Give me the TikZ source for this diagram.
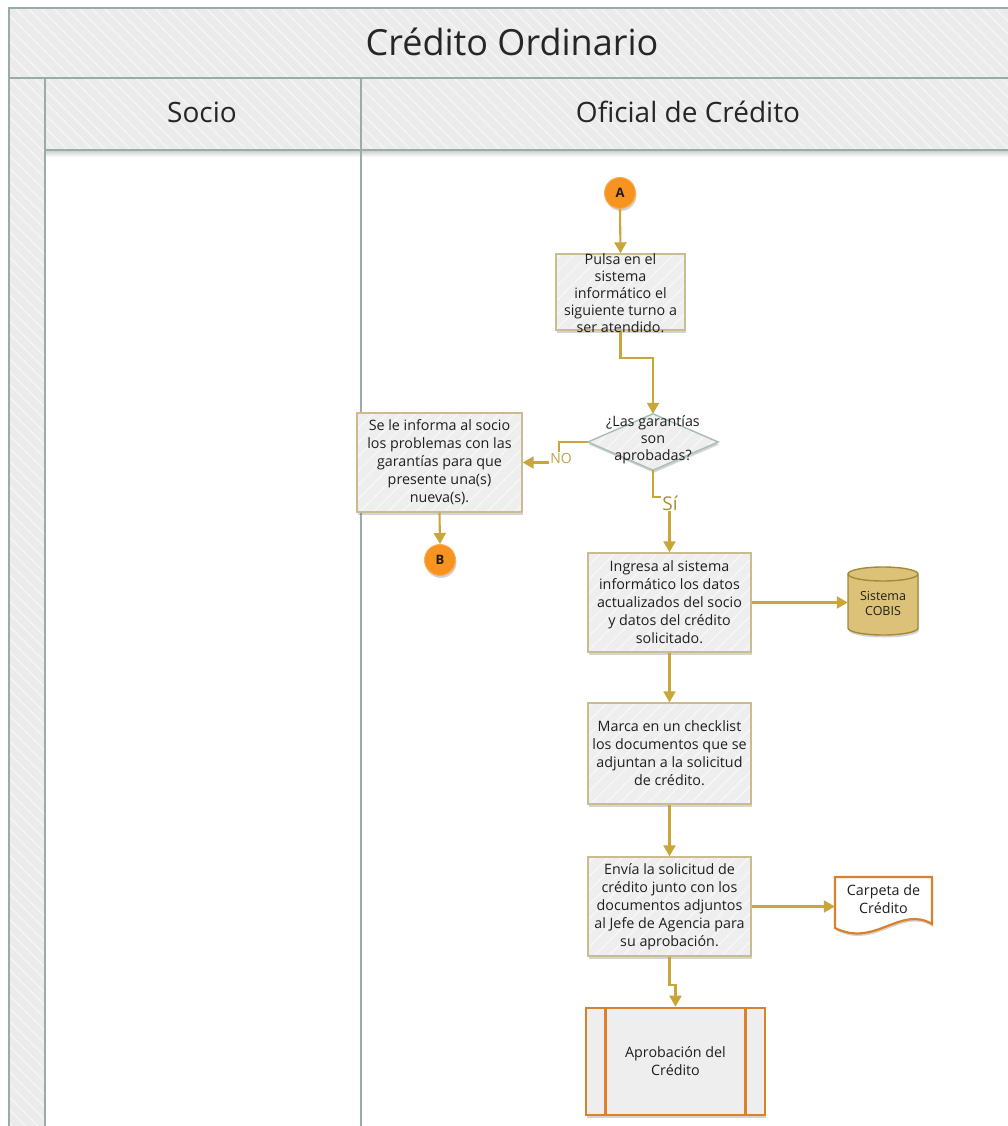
\documentclass[tikz,border=0pt]{standalone}
\usepackage{fontspec}
\setmainfont{Open Sans}
\usetikzlibrary{arrows.meta,shadows,patterns.meta,calc}
\definecolor{conn}{HTML}{C8A63A}
\definecolor{boxdraw}{HTML}{C9BC8E}
\definecolor{boxfill}{HTML}{EEEEEE}
\definecolor{diadraw}{HTML}{A7BDB5}
\definecolor{circfill}{HTML}{F7931E}
\definecolor{circdraw}{HTML}{F9AE55}
\definecolor{cylfill}{HTML}{DCC278}
\definecolor{cyldraw}{HTML}{A38A36}
\definecolor{orangedraw}{HTML}{D9822B}
\definecolor{framecol}{HTML}{97ADA5}
\definecolor{hdrfill}{HTML}{EBEBEB}
\definecolor{txtcol}{HTML}{1E1E1E}
\definecolor{nocol}{HTML}{BBA548}
\definecolor{sicol}{HTML}{A89038}
\begin{document}
\begin{tikzpicture}[x=1pt,y=-1pt,
  hatch/.style={fill=hdrfill, postaction={pattern={Lines[angle=-45,distance=9pt,line width=1.6pt]}, pattern color=white!45!hdrfill}},
  shad/.style={drop shadow={shadow xshift=1pt,shadow yshift=-2.5pt,opacity=.28,fill=black!60}},
  hatchfill/.style={preaction={fill=#1}, preaction={pattern={Lines[angle=45,distance=10pt,line width=1.6pt]}, pattern color=white!45!#1}},
  frameline/.style={draw=framecol, line width=1.5pt},
  procbox/.style={shad, hatchfill=boxfill, draw=boxdraw, line width=1.4pt, minimum width=163, minimum height=99, inner sep=0pt, align=center, text=txtcol, font=\fontsize{14.3}{18}\selectfont},
  plaintext/.style={inner sep=0pt, align=center, text=txtcol, font=\fontsize{14.3}{17}\selectfont},
  circ/.style={circle, fill=circfill, draw=circdraw, line width=1pt, minimum size=31, inner sep=0pt, text=txtcol, font=\fontsize{13}{15}\selectfont\bfseries, shad},
  conn/.style={draw=conn, line width=2.1pt, -{Triangle[width=12pt,length=11pt]}},
  hdr/.style={inner sep=0pt, text=black!85, font=\fontsize{28}{32}\selectfont},
  lbl/.style={fill=white, inner sep=1pt}
]
\useasboundingbox (0,0) rectangle (1008,1126);
\clip (0,0) rectangle (1008,1126);
\fill[white] (0,0) rectangle (1008,1126);
% frame
\path[hatch] (9,8) rectangle (1020,78);
\path[hatch] (45,78) rectangle (1020,150);
\path[hatch] (9,78) rectangle (45,1130);
\shade[top color=black!18, bottom color=white] (46,151) rectangle (1020,157);
\draw[frameline] (9,1130) -- (9,8) -- (1020,8);
\draw[frameline] (9,78) -- (1020,78);
\draw[frameline] (45,1130) -- (45,78);
\draw[frameline] (45,150) -- (1020,150);
\draw[frameline] (361,78) -- (361,1130);
\node[hdr, font=\fontsize{36}{40}\selectfont] (title) at (512,42) {Crédito Ordinario};
\node[hdr] (socio) at (202,112) {Socio};
\node[hdr] (oficial) at (688,112) {Oficial de Crédito};

% nodes
\node[circ] (A) at (620,193) {A};
\node[procbox, minimum width=129, minimum height=76] (b1) at (620.5,292) {};
\node[procbox, minimum width=165] (b2) at (439.5,462.5) {Se le informa al socio\\los problemas con las\\garantías para que\\presente una(s)\\nueva(s).};
\node[circ] (B) at (440,560) {B};
\node[inner sep=0pt, minimum width=130, minimum height=56] (dec) at (653,442) {};
\path[shad, hatchfill=boxfill, draw=diadraw, line width=1.4pt] (dec.north) -- (dec.east) -- (dec.south) -- (dec.west) -- cycle;
\node[procbox] (b3) at (669.5,602.5) {Ingresa al sistema\\informático los datos\\actualizados del socio\\y datos del crédito\\solicitado.};
\node[procbox, minimum height=101] (b4) at (669.5,753.5) {Marca en un checklist\\los documentos que se\\adjuntan a la solicitud\\de crédito.};
\node[procbox] (b5) at (669.5,906.5) {Envía la solicitud de\\crédito junto con los\\documentos adjuntos\\al Jefe de Agencia para\\su aprobación.};
% cylinder
\filldraw[draw=cyldraw, fill=cylfill, line width=1.4pt, shad] (848,574) -- (848,628) arc[start angle=180,end angle=0,x radius=35,y radius=7] -- (918,574) arc[start angle=0,end angle=-180,x radius=35,y radius=7] -- cycle;
\draw[draw=cyldraw, line width=1.4pt] (848,574) arc[start angle=180,end angle=0,x radius=35,y radius=7];
\node[plaintext, minimum width=70, minimum height=68, font=\fontsize{12.5}{15}\selectfont] (cobis) at (883,603) {Sistema\\COBIS};
% document
\filldraw[draw=orangedraw, fill=white, line width=2.2pt, shad] (835,877) -- (932,877) -- (932,924) .. controls (900,905) and (875,948) .. (835,928) -- cycle;
\node[inner sep=0pt, minimum width=97, minimum height=62] (doc) at (883.5,903) {};
\node[plaintext, font=\fontsize{14.3}{18}\selectfont] (doct) at (883.5,899) {Carpeta de\\Crédito};
% subprocess
\node[shad, fill=boxfill, draw=orangedraw, line width=2.6pt, minimum width=179, minimum height=107, inner sep=0pt, align=center, text=txtcol, font=\fontsize{14.3}{18}\selectfont] (sub) at (675.5,1061.5) {Aprobación del\\Crédito};
\draw[draw=orangedraw, line width=2.6pt] ([xshift=21pt]sub.north west) -- ([xshift=21pt]sub.south west);
\draw[draw=orangedraw, line width=2.6pt] ([xshift=-21pt]sub.north east) -- ([xshift=-21pt]sub.south east);

% connectors
\draw[conn] (A.south) -- (b1.north);
\draw[conn] (b1.south) -- ++(0,27) -| (dec.north);
\draw[conn] (dec.west) -- ++(-29,0) |- (b2.east);
\draw[conn] (dec.south) -- ++(0,27) -| (b3.north);
\draw[conn] (b2.south) -- (B.north);
\draw[conn] (b3.east) -- (b3.east -| cobis.west);
\draw[conn] (b3.south) -- (b4.north);
\draw[conn] (b4.south) -- (b5.north);
\draw[conn] (b5.east) -- (b5.east -| doc.west);
\draw[conn] (b5.south) -- ++(0,28) -| (sub.north);
\node[lbl, text=nocol, font=\fontsize{14}{16}\selectfont] (no) at (561,458) {NO};
\node[lbl, text=sicol, font=\fontsize{19}{21}\selectfont] (si) at (670,503) {Sí};

% texts over shapes
\node[plaintext] (b1t) at (620.5,293) {Pulsa en el\\sistema\\informático el\\siguiente turno a\\ser atendido.};
\node[plaintext] (dect) at (653,440) {¿Las garantías\\son\\aprobadas?};
\end{tikzpicture}
\end{document}
